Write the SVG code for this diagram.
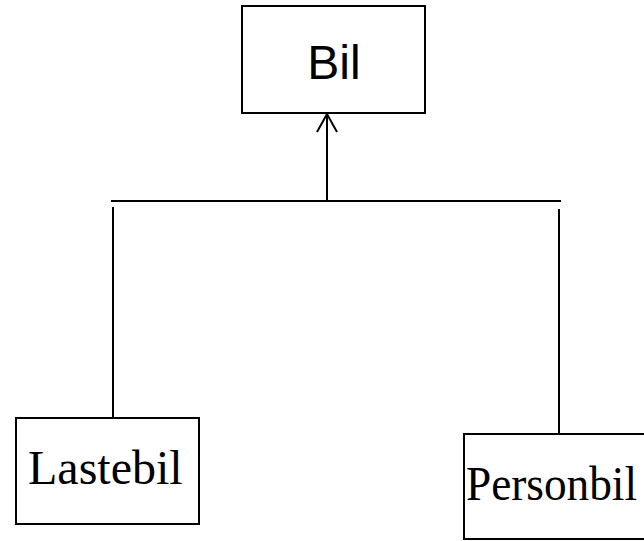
<svg xmlns="http://www.w3.org/2000/svg" width="644" height="541" viewBox="0 0 644 541">
  <defs>
    <style>
      .box { fill: #ffffff; stroke: #000000; stroke-width: 2; }
      .line { fill: none; stroke: #000000; stroke-width: 2; }
      .sans { font-family: "Liberation Sans", Arial, sans-serif; font-size: 48px; fill: #000000; }
      .serif { font-family: "Liberation Serif", "Times New Roman", serif; font-size: 48px; fill: #000000; }
    </style>
  </defs>
  <rect width="644" height="541" fill="#ffffff"/>

  <g id="connectors">
    <!-- inheritance arrow up to Bil -->
    <line class="line" x1="327" y1="200" x2="327" y2="114"/>
    <polyline class="line" points="317,132 327,114 337,132"/>
    <!-- horizontal bar -->
    <line class="line" x1="111" y1="201" x2="561" y2="201"/>
    <!-- branches -->
    <line class="line" x1="113" y1="207" x2="113" y2="418"/>
    <line class="line" x1="559" y1="209" x2="559" y2="434"/>
  </g>

  <g id="bil">
    <rect class="box" x="242" y="6" width="183" height="107"/>
    <text class="sans" x="334" y="79" text-anchor="middle">Bil</text>
  </g>

  <g id="lastebil">
    <rect class="box" x="16" y="418" width="183" height="106"/>
    <text class="serif" x="28" y="484">Lastebil</text>
  </g>

  <g id="personbil">
    <rect class="box" x="464" y="434" width="190" height="105"/>
    <text class="serif" x="466" y="500" textLength="171" lengthAdjust="spacingAndGlyphs">Personbil</text>
  </g>
</svg>
